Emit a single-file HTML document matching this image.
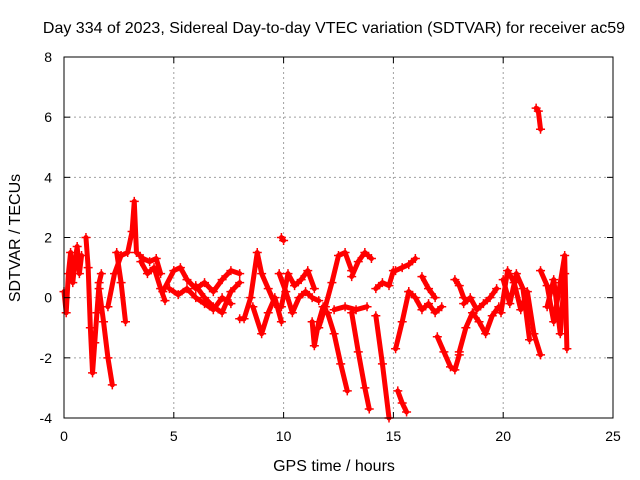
<!DOCTYPE html>
<html><head><meta charset="utf-8"><style>
body{margin:0;background:#fff}
svg{display:block;font-family:"Liberation Sans",sans-serif}
</style></head><body>
<svg id="chart" width="640" height="480" viewBox="0 0 640 480">
<rect width="640" height="480" fill="#fff"/>
<text x="334" y="33" text-anchor="middle" font-size="16">Day 334 of 2023, Sidereal Day-to-day VTEC variation (SDTVAR) for receiver ac59</text>
<text x="334" y="471" text-anchor="middle" font-size="16">GPS time / hours</text>
<text transform="translate(20,238) rotate(-90)" text-anchor="middle" font-size="16">SDTVAR / TECUs</text>
<g id="grid"></g><g id="series"></g><g id="axes"></g>
</svg>
<script>
const xTicks=[0,5,10,15,20,25];
const yTicks=[-4,-2,0,2,4,6,8];
const tracks=[
{t:[0.0,0.1,0.2,0.3,0.4,0.5,0.6,0.7,0.8],v:[0.2,-0.5,0.8,1.5,0.5,1.2,1.7,0.8,1.4]},
{t:[1.0,1.1,1.2,1.3,1.4,1.5,1.6,1.7],v:[2.0,1.0,-1.0,-2.5,-1.5,-0.5,0.5,0.8]},
{t:[1.6,1.8,2.0,2.2],v:[0.3,-0.8,-2.0,-2.9]},
{t:[2.0,2.3,2.6,2.9,3.1,3.2,3.3,3.6,3.9,4.2,4.4],v:[-0.3,0.8,1.4,1.5,2.2,3.2,1.5,1.3,1.2,1.3,0.8]},
{t:[2.4,2.6,2.8],v:[1.5,0.5,-0.8]},
{t:[3.5,3.8,4.1,4.4,4.6],v:[1.2,0.8,1.0,0.3,-0.1]},
{t:[4.5,5.0,5.3,5.6,6.0,6.4,6.8,7.2,7.6,8.0],v:[0.2,0.9,1.0,0.6,0.3,0.5,0.2,0.6,0.9,0.8]},
{t:[4.8,5.2,5.6,6.0,6.4,6.8,7.2,7.6],v:[0.3,0.1,0.3,0.0,-0.2,-0.4,0.0,-0.2]},
{t:[6.0,6.4,6.8,7.2,7.6,8.0],v:[0.4,0.0,-0.3,-0.5,0.2,0.5]},
{t:[8.0,8.2,8.5,8.8,9.0,9.3,9.6],v:[-0.7,-0.7,0.0,1.5,0.8,0.3,-0.2]},
{t:[8.6,9.0,9.3,9.6,9.9],v:[-0.3,-1.2,-0.5,0.0,-0.8]},
{t:[9.8,10.1,10.4,10.7,11.0,11.3,11.6],v:[0.8,0.2,-0.5,0.0,0.2,0.0,-0.1]},
{t:[9.9,10.2,10.5,10.8,11.1,11.4],v:[-0.3,0.8,0.4,0.6,0.9,0.3]},
{t:[9.9,10.0],v:[2.0,1.9]},
{t:[11.3,11.4,11.6,11.8],v:[-0.8,-1.6,-0.8,-0.3]},
{t:[11.6,11.9,12.2,12.5,12.8,13.1],v:[-1.0,-0.3,0.5,1.4,1.5,0.9]},
{t:[12.0,12.3,12.6,12.9],v:[-0.5,-1.2,-2.2,-3.1]},
{t:[13.1,13.4,13.7,14.0],v:[0.7,1.2,1.5,1.3]},
{t:[13.1,13.4,13.7,13.9],v:[-0.5,-1.8,-3.0,-3.7]},
{t:[12.3,12.8,13.3,13.8],v:[-0.4,-0.3,-0.4,-0.3]},
{t:[14.2,14.5,14.8],v:[-0.6,-2.2,-4.0]},
{t:[14.2,14.5,14.8,15.0],v:[0.3,0.5,0.4,0.9]},
{t:[15.2,15.4,15.6],v:[-3.1,-3.5,-3.8]},
{t:[15.1,15.4,15.7],v:[-1.7,-0.8,0.2]},
{t:[15.1,15.4,15.7,16.0],v:[0.9,1.0,1.1,1.3]},
{t:[15.7,16.0,16.3,16.6,16.9,17.2],v:[0.2,0.0,-0.4,-0.2,-0.5,-0.3]},
{t:[16.3,16.6,16.9],v:[0.7,0.3,0.0]},
{t:[17.0,17.3,17.6,17.8,18.0],v:[-1.3,-1.8,-2.3,-2.4,-1.9]},
{t:[17.8,18.0,18.2],v:[0.6,0.4,0.0]},
{t:[18.0,18.3,18.6,18.9,19.2,19.5,19.8],v:[-1.8,-1.0,-0.5,-0.8,-1.2,-0.6,-0.3]},
{t:[18.2,18.5,18.8,19.1,19.4,19.7],v:[-0.2,0.0,-0.4,-0.2,0.0,0.3]},
{t:[19.9,20.2,20.5,20.8,21.1,21.4,21.7],v:[-0.5,0.9,0.5,-0.4,0.2,-1.2,-1.9]},
{t:[20.0,20.3,20.6,20.9,21.2],v:[0.6,-0.2,0.8,0.3,-1.4]},
{t:[21.5,21.6,21.7],v:[6.3,6.2,5.6]},
{t:[21.7,22.0,22.3,22.6,22.8,22.9],v:[0.9,0.4,-0.8,0.5,1.4,-1.7]},
{t:[22.0,22.3,22.6,22.8],v:[-0.3,0.6,-1.2,0.8]}
];
const L=64,R=613,T=57,B=418,xMin=0,xMax=25,yMin=-4,yMax=8;
const sx=t=>L+(t-xMin)/(xMax-xMin)*(R-L);
const sy=v=>B-(v-yMin)/(yMax-yMin)*(B-T);
const NS="http://www.w3.org/2000/svg";
function mk(tag,attrs,parent){const e=document.createElementNS(NS,tag);for(const k in attrs)e.setAttribute(k,attrs[k]);parent.appendChild(e);return e;}
const grid=document.getElementById('grid'),axes=document.getElementById('axes'),ser=document.getElementById('series');
xTicks.forEach(t=>{const x=sx(t);
 if(t>xMin&&t<xMax){const g=mk('line',{x1:x,x2:x,y1:T,y2:B,stroke:'#a0a0a0','stroke-dasharray':'2,3'},grid);
 
 }
 mk('line',{x1:x,x2:x,y1:B,y2:B-6,stroke:'#000'},axes);mk('line',{x1:x,x2:x,y1:T,y2:T+6,stroke:'#000'},axes);
 const lb=mk('text',{x:x,y:B+23,'text-anchor':'middle','font-size':14},axes);lb.textContent=t;
 
 
});
yTicks.forEach(v=>{const y=sy(v);
 if(v>yMin&&v<yMax){const g=mk('line',{x1:L,x2:R,y1:y,y2:y,stroke:'#a0a0a0','stroke-dasharray':'2,3'},grid);
 
 }
 mk('line',{x1:L,x2:L+6,y1:y,y2:y,stroke:'#000'},axes);mk('line',{x1:R,x2:R-6,y1:y,y2:y,stroke:'#000'},axes);
 const lb=mk('text',{x:L-12,y:y+5,'text-anchor':'end','font-size':14},axes);lb.textContent=v;
 
 
});
const fr=mk('rect',{x:L,y:T,width:R-L,height:B-T,fill:'none',stroke:'#000'},axes);


tracks.forEach(tr=>{
 const g=mk('g',{},ser);
 
 
 const pts=tr.t.map((t,i)=>sx(t)+','+sy(tr.v[i])).join(' ');
 mk('polyline',{points:pts,fill:'none',stroke:'#ff0000','stroke-width':5,'stroke-linejoin':'round','stroke-linecap':'round'},g);
 tr.t.forEach((t,i)=>{const x=sx(t),y=sy(tr.v[i]);
  const p=mk('path',{d:`M${x-4.5},${y}H${x+4.5}M${x},${y-4.5}V${y+4.5}`,stroke:'#ff0000','stroke-width':1.5},g);
  
  
 });
});
</script>
</body></html>
